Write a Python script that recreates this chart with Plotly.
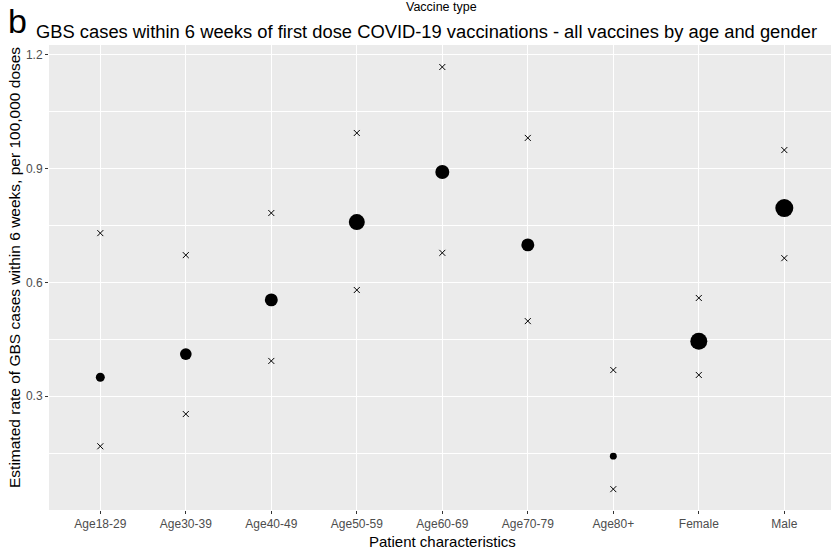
import plotly.graph_objects as go

categories = ["Age18-29", "Age30-39", "Age40-49", "Age50-59", "Age60-69",
              "Age70-79", "Age80+", "Female", "Male"]
rate = [0.350, 0.411, 0.554, 0.759, 0.891, 0.699, 0.142, 0.445, 0.796]
upper_ci = [0.730, 0.672, 0.783, 0.994, 1.168, 0.981, 0.369, 0.559, 0.949]
lower_ci = [0.168, 0.253, 0.393, 0.580, 0.678, 0.498, 0.055, 0.356, 0.664]
cases = [20, 34, 42, 64, 49, 42, 12, 72, 81]
y_ticks = [0.3, 0.6, 0.9, 1.2]

W, H = 831, 556
L, R, T, B = 49, 0, 45, 46
pw, ph = W - L - R, H - T - B

def px_x(p):
    return (p - L) / pw

def px_y(p):
    return (H - B - p) / ph

# size scale: diameter proportional to sqrt(cases)
marker_d = [2.0 * c ** 0.5 for c in cases]

fig = go.Figure()
fig.add_trace(go.Scatter(
    x=categories, y=rate, mode="markers",
    marker=dict(color="black", size=marker_d, sizemode="diameter", opacity=1,
                line=dict(width=0)),
    showlegend=False, hoverinfo="x+y"))
fig.add_trace(go.Scatter(
    x=categories + categories, y=upper_ci + lower_ci, mode="markers",
    marker=dict(symbol="x-thin-open", color="black", size=6, opacity=1,
                line=dict(width=1, color="black")),
    showlegend=False, hoverinfo="x+y"))

grid_minor = [0.15, 0.45, 0.75, 1.05]

fig.update_layout(
    width=W, height=H,
    margin=dict(l=L, r=R, t=T, b=B, pad=0, autoexpand=False),
    paper_bgcolor="white", plot_bgcolor="#EBEBEB",
    font=dict(family="Liberation Sans, Arial, sans-serif", color="black"),
    xaxis=dict(
        type="category", categoryorder="array", categoryarray=categories,
        range=[-0.6, 8.546], showgrid=True, gridcolor="white", gridwidth=1.1,
        zeroline=False, showline=False, automargin=False,
        ticks="outside", ticklen=3, tickwidth=1, tickcolor="#333333",
        tickfont=dict(size=12, color="#4D4D4D"), fixedrange=True),
    yaxis=dict(
        range=[0.0, 1.226], tickvals=y_ticks, ticktext=[f"{v:.1f}" for v in y_ticks],
        showgrid=True, gridcolor="white", gridwidth=1.1,
        minor=dict(tickvals=grid_minor, showgrid=True, gridcolor="white", gridwidth=0.5, ticks=""),
        zeroline=False, showline=False, automargin=False,
        ticks="outside", ticklen=3, tickwidth=1, tickcolor="#333333",
        tickfont=dict(size=12, color="#4D4D4D"), fixedrange=True),
)

annotations = [
    dict(text="b", x=px_x(6), y=px_y(21), xanchor="left", yanchor="middle",
         font=dict(size=34, color="black")),
    dict(text="GBS cases within 6 weeks of first dose COVID-19 vaccinations - all vaccines by age and gender",
         x=px_x(34), y=px_y(32), xanchor="left", yanchor="middle",
         font=dict(size=18.35, color="black")),
    dict(text="Vaccine type", x=px_x(441), y=px_y(7), xanchor="center", yanchor="middle",
         font=dict(size=12.5, color="black")),
    dict(text="Patient characteristics", x=px_x(442), y=px_y(541), xanchor="center",
         yanchor="middle", font=dict(size=15, color="black")),
    dict(text="Estimated rate of GBS cases within 6 weeks, per 100,000 doses",
         x=px_x(14), y=px_y(268), xanchor="center", yanchor="middle", textangle=-90,
         font=dict(size=15.5, color="black")),
]
for a in annotations:
    a.update(xref="paper", yref="paper", showarrow=False)
fig.update_layout(annotations=annotations)

fig.write_html("out.html", config={"displayModeBar": False},
               post_script="document.body.style.margin='0';document.body.style.overflow='hidden';")
